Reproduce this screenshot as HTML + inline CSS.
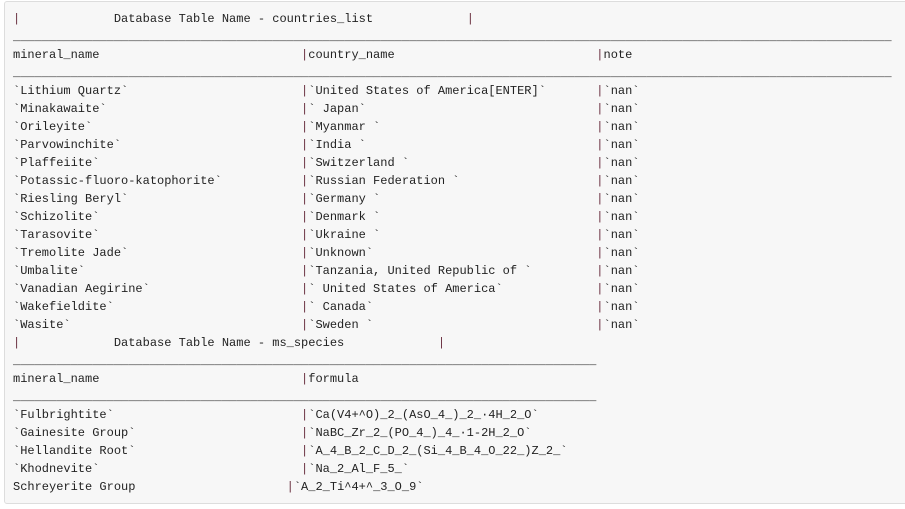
<!DOCTYPE html>
<html><head><meta charset="utf-8"><style>
html,body{margin:0;padding:0;background:#fff;width:905px;height:509px;overflow:hidden}
.box{position:absolute;left:4px;top:1px;width:910px;height:503px;box-sizing:border-box;background:#f7f7f7;border:1px solid #ddd;border-radius:3px}
pre{position:absolute;left:13px;top:10px;margin:0;font-family:"Liberation Mono",monospace;font-size:12px;line-height:18px;color:#222;white-space:pre}
.p{color:#6a3040}
</style></head><body>
<div class="box"></div>
<pre><span class="p">|</span>             Database Table Name - countries_list             <span class="p">|</span>
__________________________________________________________________________________________________________________________
mineral_name                            <span class="p">|</span>country_name                            <span class="p">|</span>note
__________________________________________________________________________________________________________________________
`Lithium Quartz`                        <span class="p">|</span>`United States of America[ENTER]`       <span class="p">|</span>`nan`
`Minakawaite`                           <span class="p">|</span>` Japan`                                <span class="p">|</span>`nan`
`Orileyite`                             <span class="p">|</span>`Myanmar `                              <span class="p">|</span>`nan`
`Parvowinchite`                         <span class="p">|</span>`India `                                <span class="p">|</span>`nan`
`Plaffeiite`                            <span class="p">|</span>`Switzerland `                          <span class="p">|</span>`nan`
`Potassic-fluoro-katophorite`           <span class="p">|</span>`Russian Federation `                   <span class="p">|</span>`nan`
`Riesling Beryl`                        <span class="p">|</span>`Germany `                              <span class="p">|</span>`nan`
`Schizolite`                            <span class="p">|</span>`Denmark `                              <span class="p">|</span>`nan`
`Tarasovite`                            <span class="p">|</span>`Ukraine `                              <span class="p">|</span>`nan`
`Tremolite Jade`                        <span class="p">|</span>`Unknown`                               <span class="p">|</span>`nan`
`Umbalite`                              <span class="p">|</span>`Tanzania, United Republic of `         <span class="p">|</span>`nan`
`Vanadian Aegirine`                     <span class="p">|</span>` United States of America`             <span class="p">|</span>`nan`
`Wakefieldite`                          <span class="p">|</span>` Canada`                               <span class="p">|</span>`nan`
`Wasite`                                <span class="p">|</span>`Sweden `                               <span class="p">|</span>`nan`
<span class="p">|</span>             Database Table Name - ms_species             <span class="p">|</span>
_________________________________________________________________________________
mineral_name                            <span class="p">|</span>formula
_________________________________________________________________________________
`Fulbrightite`                          <span class="p">|</span>`Ca(V4+^O)_2_(AsO_4_)_2_·4H_2_O`
`Gainesite Group`                       <span class="p">|</span>`NaBC_Zr_2_(PO_4_)_4_·1-2H_2_O`
`Hellandite Root`                       <span class="p">|</span>`A_4_B_2_C_D_2_(Si_4_B_4_O_22_)Z_2_`
`Khodnevite`                            <span class="p">|</span>`Na_2_Al_F_5_`
Schreyerite Group                     <span class="p">|</span>`A_2_Ti^4+^_3_O_9`
</pre>
</body></html>
